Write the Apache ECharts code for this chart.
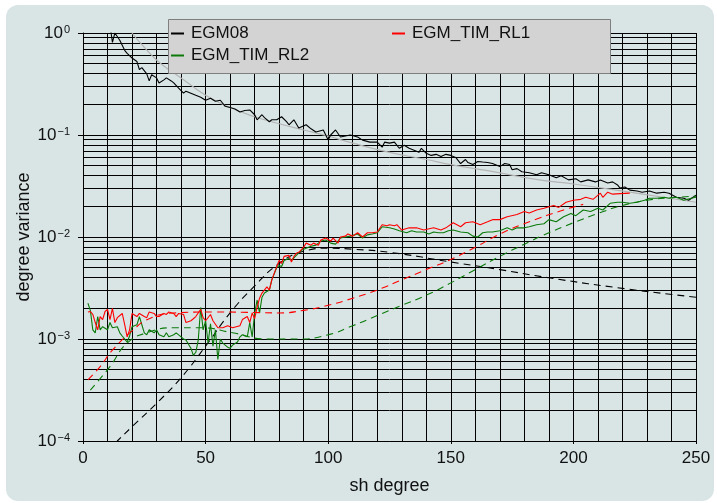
<!DOCTYPE html>
<html>
<head>
<meta charset="utf-8">
<script src="https://cdn.jsdelivr.net/npm/echarts@6/dist/echarts.min.js"></script>
<style>
html, body { margin: 0; padding: 0; background: #fff; }
#panel { position: absolute; left: 6px; top: 5px; width: 708px; height: 496px; border-radius: 12px; background: #d9e5e5; }
#chart { position: absolute; left: 0; top: 0; width: 717px; height: 503px; }
</style>
</head>
<body>
<div id="panel"></div>
<div id="chart"></div>
<script>
// degree variances
var egm08Deg = [2, 5, 8, 10, 11, 12, 13, 15, 17, 18, 20, 22, 23, 24, 26, 27, 28, 30, 31, 33, 34, 36, 37, 39, 41, 42, 44, 46, 48, 50,
    52, 54, 56, 58, 60, 62, 64, 66, 68, 70, 71, 73, 74, 76, 77, 79, 81, 83, 84, 86, 88, 91, 93, 95, 98, 100, 101, 103, 105, 107,
    109, 112, 114, 117, 120, 122, 123, 125, 127, 129, 131, 133, 135, 137, 138, 140, 142, 144, 146, 148, 150, 152, 154, 156, 157, 159, 161, 163, 165, 167,
    170, 172, 174, 175, 177, 179, 182, 185, 187, 190, 193, 195, 198, 201, 203, 206, 209, 211, 214, 216, 218, 219, 221, 223, 226, 228, 231, 234, 237, 239,
    242, 245, 247, 250];
var egm08Val = [4.0, 2.5, 1.8, 1.45, 1.2, 0.81, 1.0, 0.85, 0.676, 0.631, 0.569, 0.525, 0.437, 0.457, 0.398, 0.339, 0.389, 0.363, 0.324, 0.347, 0.363, 0.339, 0.324, 0.288, 0.257, 0.269, 0.257, 0.245, 0.234, 0.219,
    0.229, 0.214, 0.219, 0.191, 0.186, 0.180, 0.168, 0.174, 0.176, 0.158, 0.141, 0.158, 0.148, 0.135, 0.141, 0.141, 0.151, 0.135, 0.126, 0.141, 0.117, 0.126, 0.115, 0.107, 0.112, 0.0891, 0.100, 0.112, 0.0955, 0.0977,
    0.100, 0.0955, 0.0891, 0.0851, 0.0851, 0.0759, 0.0851, 0.0832, 0.0851, 0.0741, 0.0794, 0.0741, 0.0708, 0.0676, 0.0741, 0.0661, 0.0631, 0.0646, 0.0617, 0.0646, 0.0631, 0.0603, 0.0525, 0.0575, 0.0537, 0.0513, 0.0550, 0.0543, 0.0537, 0.0525,
    0.0490, 0.0525, 0.0513, 0.0457, 0.0468, 0.0437, 0.0427, 0.0407, 0.0427, 0.0407, 0.0380, 0.0398, 0.0363, 0.0372, 0.0347, 0.0363, 0.0347, 0.0363, 0.0339, 0.0347, 0.0324, 0.0302, 0.0309, 0.0288, 0.0282, 0.0275, 0.0282, 0.0269, 0.0275, 0.0269,
    0.0245, 0.0240, 0.0229, 0.0257];

var rl1Deg = [2, 3, 4, 5, 6, 7, 8, 9, 10, 11, 12, 13, 14, 16, 17, 18, 19, 20, 22, 23, 25, 26, 27, 29, 30, 31, 33, 34, 35, 37,
    38, 39, 41, 42, 44, 45, 46, 48, 49, 50, 52, 53, 55, 57, 59, 61, 64, 65, 67, 68, 69, 70, 71, 72, 73, 75, 76, 77, 79, 80,
    81, 82, 84, 85, 86, 87, 88, 90, 91, 93, 94, 96, 97, 99, 101, 102, 104, 105, 107, 108, 110, 112, 114, 116, 118, 120, 122, 124, 125, 127,
    128, 130, 133, 136, 139, 143, 146, 148, 151, 154, 156, 159, 162, 165, 167, 170, 173, 177, 180, 182, 185, 188, 189, 192, 194, 197, 200, 203, 205, 208,
    211, 212, 214, 216, 219, 223];
var rl1Val = [1.84e-3, 1.86e-3, 1.74e-3, 1.45e-3, 1.23e-3, 1.66e-3, 1.55e-3, 1.86e-3, 1.95e-3, 1.55e-3, 2.0e-3, 1.45e-3, 1.62e-3, 1.78e-3, 1.38e-3, 1.05e-3, 1.23e-3, 1.78e-3, 1.66e-3, 1.78e-3, 1.66e-3, 1.62e-3, 1.84e-3, 1.78e-3, 1.66e-3, 1.66e-3, 1.78e-3, 1.74e-3, 1.84e-3, 1.78e-3,
    1.66e-3, 1.78e-3, 1.74e-3, 1.45e-3, 1.51e-3, 1.58e-3, 1.66e-3, 1.95e-3, 1.62e-3, 1.51e-3, 1.74e-3, 1.51e-3, 1.29e-3, 1.29e-3, 1.35e-3, 1.29e-3, 1.35e-3, 1.55e-3, 1.66e-3, 1.45e-3, 1.80e-3, 1.58e-3, 2.04e-3, 2.51e-3, 2.82e-3, 3.24e-3, 3.02e-3, 3.80e-3, 5.13e-3, 5.89e-3,
    5.50e-3, 6.46e-3, 6.61e-3, 5.69e-3, 6.46e-3, 6.92e-3, 7.08e-3, 7.94e-3, 8.71e-3, 8.32e-3, 8.71e-3, 8.32e-3, 9.33e-3, 9.77e-3, 9.12e-3, 9.77e-3, 8.71e-3, 1.0e-2, 1.02e-2, 1.07e-2, 1.02e-2, 1.10e-2, 1.0e-2, 1.10e-2, 1.10e-2, 1.12e-2, 1.32e-2, 1.29e-2, 1.32e-2, 1.29e-2,
    1.32e-2, 1.17e-2, 1.23e-2, 1.23e-2, 1.17e-2, 1.23e-2, 1.17e-2, 1.23e-2, 1.38e-2, 1.26e-2, 1.38e-2, 1.41e-2, 1.32e-2, 1.41e-2, 1.48e-2, 1.48e-2, 1.58e-2, 1.66e-2, 1.78e-2, 1.72e-2, 1.84e-2, 1.91e-2, 1.95e-2, 2.04e-2, 1.95e-2, 2.19e-2, 2.29e-2, 2.34e-2, 2.45e-2, 2.34e-2,
    2.69e-2, 2.45e-2, 2.75e-2, 2.63e-2, 2.66e-2, 2.69e-2];

var rl2Deg = [2, 3, 4, 5, 6, 7, 8, 10, 11, 12, 14, 15, 16, 18, 19, 20, 22, 23, 24, 25, 26, 27, 29, 30, 31, 33, 34, 35, 37, 38,
    40, 41, 42, 44, 45, 46, 47, 48, 49, 50, 51, 52, 53, 54, 55, 56, 57, 59, 60, 61, 63, 64, 65, 67, 68, 69, 70, 71, 72, 73,
    74, 76, 77, 79, 80, 81, 82, 84, 85, 87, 89, 91, 93, 95, 97, 99, 101, 103, 105, 107, 109, 112, 114, 116, 118, 120, 122, 125, 127, 129,
    132, 134, 136, 139, 141, 143, 145, 147, 149, 151, 154, 157, 159, 161, 163, 165, 167, 170, 173, 175, 177, 180, 182, 185, 188, 190, 193, 196, 199, 201,
    204, 207, 210, 212, 215, 218, 220, 223, 226, 229, 231, 234, 237, 239, 242, 245, 248, 250];
var rl2Val = [2.24e-3, 1.91e-3, 1.23e-3, 1.15e-3, 1.66e-3, 1.23e-3, 1.32e-3, 1.23e-3, 1.45e-3, 1.29e-3, 1.32e-3, 1.15e-3, 1.07e-3, 9.33e-4, 1.07e-3, 1.32e-3, 1.38e-3, 1.66e-3, 1.38e-3, 1.15e-3, 1.10e-3, 1.23e-3, 1.15e-3, 1.23e-3, 1.10e-3, 1.05e-3, 1.15e-3, 1.05e-3, 1.10e-3, 1.15e-3,
    1.05e-3, 1.0e-3, 9.77e-4, 8.13e-4, 6.92e-4, 7.41e-4, 9.77e-4, 2.04e-3, 1.23e-3, 1.51e-3, 9.12e-4, 1.41e-3, 8.51e-4, 1.23e-3, 6.31e-4, 1.0e-3, 9.12e-4, 8.32e-4, 8.13e-4, 8.71e-4, 9.33e-4, 1.05e-3, 1.10e-3, 1.05e-3, 1.45e-3, 1.05e-3, 1.78e-3, 2.40e-3, 1.80e-3, 2.57e-3,
    2.82e-3, 3.02e-3, 3.80e-3, 5.01e-3, 5.25e-3, 5.13e-3, 5.89e-3, 6.17e-3, 5.89e-3, 6.61e-3, 7.41e-3, 7.76e-3, 8.13e-3, 8.32e-3, 9.12e-3, 9.33e-3, 8.71e-3, 8.51e-3, 9.77e-3, 1.0e-2, 1.02e-2, 1.07e-2, 9.77e-3, 1.05e-2, 1.07e-2, 1.10e-2, 1.26e-2, 1.23e-2, 1.20e-2, 1.15e-2,
    1.10e-2, 1.15e-2, 1.12e-2, 1.12e-2, 1.07e-2, 1.12e-2, 1.10e-2, 1.10e-2, 1.15e-2, 1.17e-2, 1.12e-2, 1.10e-2, 1.02e-2, 1.0e-2, 1.10e-2, 1.12e-2, 1.12e-2, 1.15e-2, 1.23e-2, 1.17e-2, 1.23e-2, 1.23e-2, 1.26e-2, 1.32e-2, 1.35e-2, 1.48e-2, 1.41e-2, 1.58e-2, 1.70e-2, 1.62e-2,
    1.84e-2, 1.78e-2, 1.91e-2, 1.84e-2, 2.14e-2, 2.19e-2, 2.19e-2, 2.14e-2, 2.19e-2, 2.29e-2, 2.40e-2, 2.40e-2, 2.45e-2, 2.40e-2, 2.45e-2, 2.29e-2, 2.40e-2, 2.45e-2];

// smooth reference curves
var kaulaDeg = [16, 20, 25, 30, 35, 40, 50, 60, 70, 80, 90, 100, 110, 125, 140, 150, 165, 186, 200, 223, 250];
var kaulaVal = [1.4, 1.0, 0.724, 0.543, 0.437, 0.363, 0.245, 0.186, 0.151, 0.129, 0.112, 0.0977, 0.0832, 0.0676, 0.0575, 0.0513, 0.0447, 0.0363, 0.0331, 0.0275, 0.0219];

var egm08ErrDeg = [10, 14, 20, 30, 40, 50, 60, 70, 80, 90, 100, 110, 125, 150, 170, 190, 222, 250];
var egm08ErrVal = [7.94e-5, 1.0e-4, 1.38e-4, 2.34e-4, 4.17e-4, 8.51e-4, 1.80e-3, 3.31e-3, 5.50e-3, 7.24e-3, 7.76e-3, 7.59e-3, 7.08e-3, 5.69e-3, 4.79e-3, 3.98e-3, 3.09e-3, 2.57e-3];

var rl1ErrDeg = [2, 7, 12, 20, 27, 37, 54, 70, 80, 90, 100, 110, 120, 130, 140, 150, 160, 170, 182, 196, 204];
var rl1ErrVal = [3.98e-4, 5.37e-4, 7.76e-4, 1.20e-3, 1.58e-3, 1.80e-3, 1.84e-3, 1.82e-3, 1.80e-3, 1.91e-3, 2.14e-3, 2.51e-3, 3.02e-3, 3.80e-3, 4.79e-3, 6.03e-3, 7.94e-3, 1.07e-2, 1.41e-2, 1.84e-2, 2.09e-2];

var rl2ErrDeg = [3, 11, 18, 26, 37, 48, 61, 75, 88, 100, 110, 120, 130, 140, 150, 160, 170, 180, 190, 200, 210, 220, 230, 240, 250];
var rl2ErrVal = [3.16e-4, 5.37e-4, 9.12e-4, 1.15e-3, 1.29e-3, 1.29e-3, 1.15e-3, 1.0e-3, 1.0e-3, 1.10e-3, 1.35e-3, 1.70e-3, 2.14e-3, 2.69e-3, 3.55e-3, 4.79e-3, 6.46e-3, 8.51e-3, 1.10e-2, 1.38e-2, 1.70e-2, 2.04e-2, 2.29e-2, 2.43e-2, 2.51e-2];

// axis ranges and log grid
var xMin = 0, xMax = 250;
var yMin = 1e-4, yMax = 1;
var decades = [1e-4, 1e-3, 1e-2, 1e-1];
var minorFactors = [2, 3, 4, 5, 6, 7, 8, 9];

var FONT = '"Liberation Sans", Arial, Helvetica, sans-serif';

function pairs(d, v) {
    return d.map(function (x, i) { return [x, v[i]]; });
}

// minor log grid lines (2..9 in each decade), drawn through the axes
var minorLines = [];
decades.forEach(function (d) {
    minorFactors.forEach(function (f) {
        minorLines.push({ coords: [[xMin, d * f], [xMax, d * f]] });
    });
});

var myChart = echarts.init(document.getElementById('chart'));

var legendBase = {
    icon: 'rect',
    itemWidth: 13,
    itemHeight: 2,
    padding: 0,
    selectedMode: false,
    z: 20,
    textStyle: { fontSize: 17, color: '#111', fontFamily: FONT, padding: [0, 0, 0, 2] }
};

var option = {
    animation: false,
    backgroundColor: 'transparent',
    grid: { left: 83, right: 21, top: 33, bottom: 62 },
    graphic: [{
        type: 'rect',
        z: 15,
        shape: { x: 168.5, y: 19.5, width: 442, height: 54 },
        style: { fill: '#d3d3d3', stroke: '#7f7f7f', lineWidth: 1 }
    }],
    legend: [
        Object.assign({ data: ['EGM08'], left: 171, top: 25 }, legendBase),
        Object.assign({ data: ['EGM_TIM_RL1'], left: 392, top: 25 }, legendBase),
        Object.assign({ data: ['EGM_TIM_RL2'], left: 171, top: 47 }, legendBase)
    ],
    xAxis: [{
        type: 'value', min: xMin, max: xMax, interval: 10, position: 'bottom',
        axisLine: { show: true, lineStyle: { color: '#000', width: 1 } },
        axisTick: { show: false },
        axisLabel: { show: false },
        splitLine: { show: true, lineStyle: { color: '#000', width: 1 } }
    }, {
        type: 'value', min: xMin, max: xMax, interval: 50, position: 'bottom',
        name: 'sh degree', nameLocation: 'middle', nameGap: 36, nameMoveOverlap: false,
        nameTextStyle: { fontSize: 18, color: '#111', fontFamily: FONT },
        axisLine: { show: false },
        axisTick: { show: true, length: 3, lineStyle: { color: '#000' } },
        axisLabel: { fontSize: 17, color: '#111', fontFamily: FONT, margin: 9 },
        splitLine: { show: false }
    }],
    yAxis: {
        type: 'log', logBase: 10, min: yMin, max: yMax,
        name: 'degree variance', nameLocation: 'middle', nameGap: 50, nameMoveOverlap: false,
        nameTextStyle: { fontSize: 18, color: '#111', fontFamily: FONT },
        axisLine: { show: true, lineStyle: { color: '#000', width: 1 } },
        axisTick: { show: true, length: 5, lineStyle: { color: '#000' } },
        axisLabel: {
            margin: 13,
            formatter: function (v) {
                var e = Math.round(Math.log10(v));
                return '{b|10}{s|' + (e < 0 ? '\u2212' + (-e) : e) + '}';
            },
            rich: {
                b: { fontSize: 17, color: '#111', fontFamily: FONT },
                s: { fontSize: 11, color: '#111', fontFamily: FONT, verticalAlign: 'top', padding: [0, 0, 0, 1] }
            }
        },
        splitLine: { show: true, lineStyle: { color: '#000', width: 1 } }
    },
    series: [
        {
            name: 'minor grid', type: 'lines', coordinateSystem: 'cartesian2d',
            xAxisIndex: 0, yAxisIndex: 0, silent: true, z: 1,
            lineStyle: { color: '#000', width: 1, opacity: 1 },
            data: minorLines
        },
        {
            name: 'Kaula', type: 'line', showSymbol: false, smooth: true, silent: true,
            lineStyle: { color: '#b4b4b4', width: 1.2 },
            data: pairs(kaulaDeg, kaulaVal)
        },
        {
            name: 'EGM08', type: 'line', showSymbol: false, silent: true,
            itemStyle: { color: '#000' },
            lineStyle: { color: '#000', width: 1.1 },
            data: pairs(egm08Deg, egm08Val)
        },
        {
            name: 'EGM08 error', type: 'line', showSymbol: false, smooth: true, silent: true,
            lineStyle: { color: '#000', width: 1.1, type: [7, 5] },
            data: pairs(egm08ErrDeg, egm08ErrVal)
        },
        {
            name: 'EGM_TIM_RL2', type: 'line', showSymbol: false, silent: true,
            itemStyle: { color: '#0b7a0b' },
            lineStyle: { color: '#0b7a0b', width: 1.1 },
            data: pairs(rl2Deg, rl2Val)
        },
        {
            name: 'EGM_TIM_RL2 error', type: 'line', showSymbol: false, smooth: true, silent: true,
            lineStyle: { color: '#0b7a0b', width: 1.1, type: [7, 5] },
            data: pairs(rl2ErrDeg, rl2ErrVal)
        },
        {
            name: 'EGM_TIM_RL1', type: 'line', showSymbol: false, silent: true,
            itemStyle: { color: '#ff0000' },
            lineStyle: { color: '#ff0000', width: 1.1 },
            data: pairs(rl1Deg, rl1Val)
        },
        {
            name: 'EGM_TIM_RL1 error', type: 'line', showSymbol: false, smooth: true, silent: true,
            lineStyle: { color: '#ff0000', width: 1.1, type: [7, 5] },
            data: pairs(rl1ErrDeg, rl1ErrVal)
        }
    ]
};

myChart.setOption(option);
</script>
</body>
</html>
